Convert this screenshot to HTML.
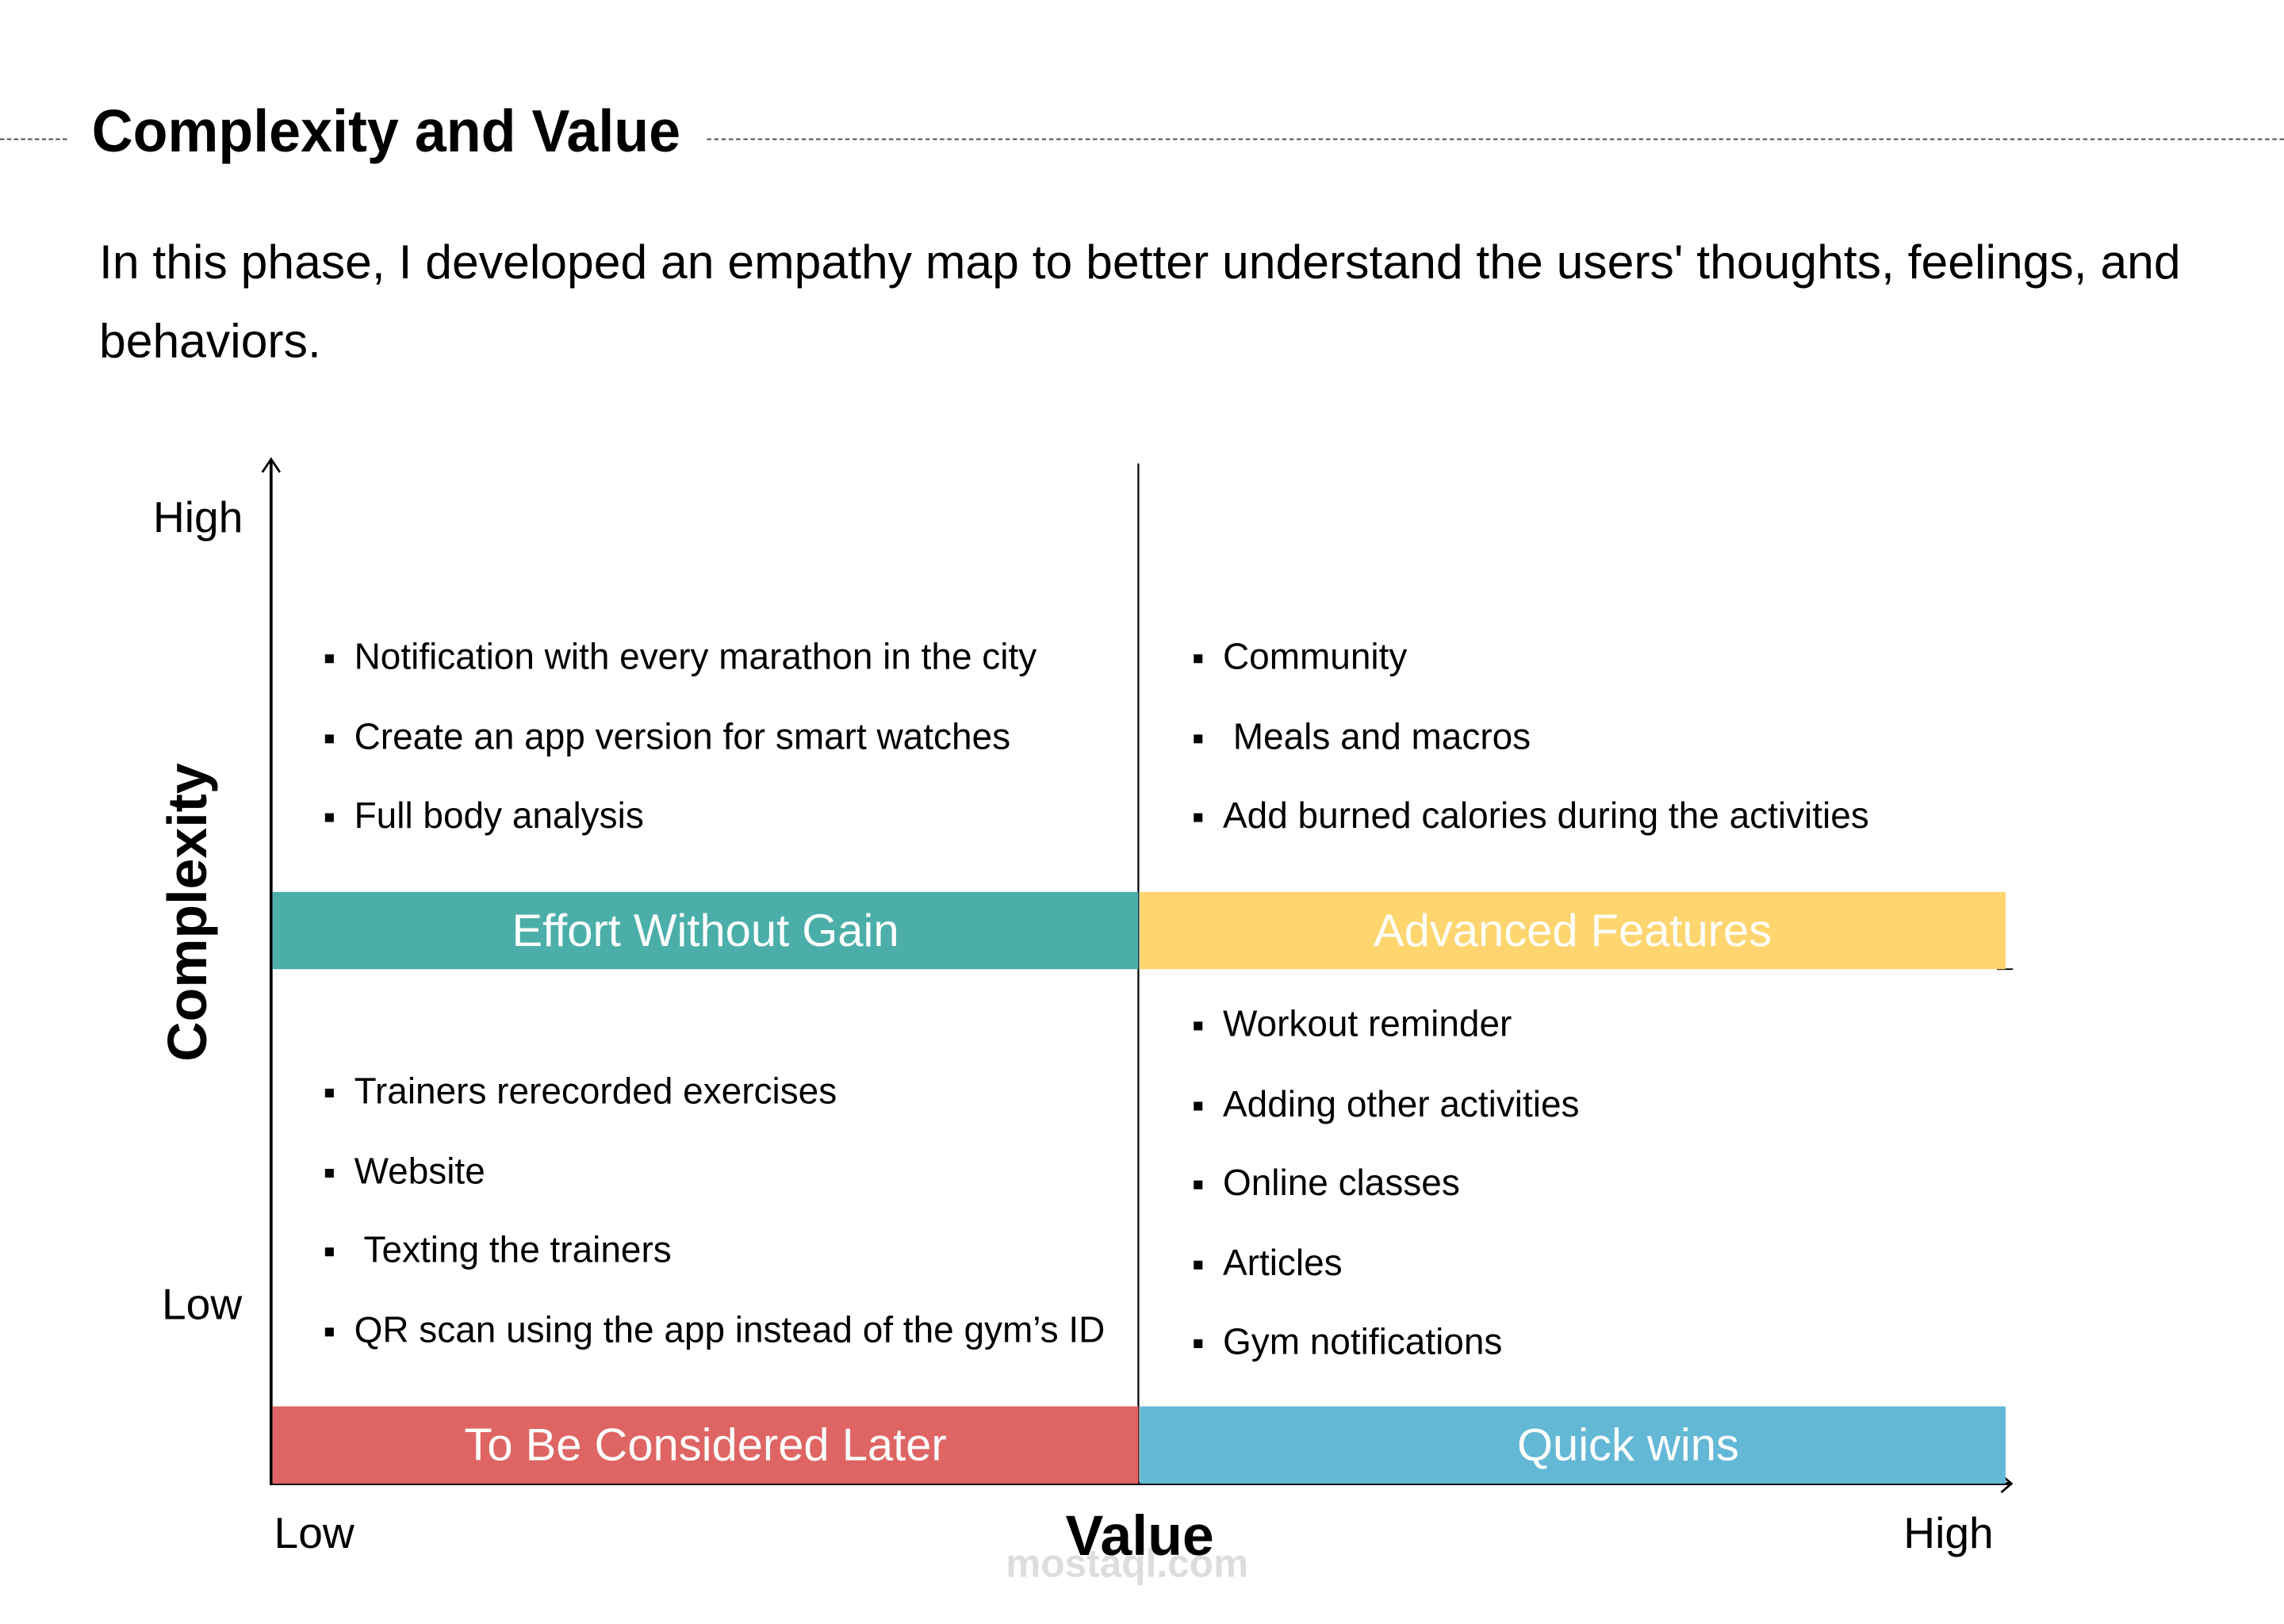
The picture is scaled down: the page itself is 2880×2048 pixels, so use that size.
<!DOCTYPE html>
<html><head><meta charset="utf-8">
<style>
html,body{margin:0;padding:0;background:#fff;}
body{width:2880px;height:2048px;overflow:hidden;position:relative;font-family:"Liberation Sans",sans-serif;color:#000;}
#wrap{position:absolute;left:0;top:0;width:1567px;height:1114px;transform:scale(1.8379,1.8379);transform-origin:0 0;}
.a{position:absolute;white-space:nowrap;}
.n{display:inline-block;transform-origin:0 50%;}
.band{position:absolute;height:53px;color:#fff;font-size:31.5px;line-height:53px;text-align:center;box-sizing:border-box;}
.item{position:absolute;font-size:25px;line-height:30px;white-space:nowrap;}
.item:before{content:"";position:absolute;left:-20px;top:13px;width:6px;height:6px;background:#000;}
</style></head>
<body>
<div id="wrap">
  <div class="a" style="left:0;top:95px;width:46px;border-top:1.5px dashed #444;"></div>
  <div class="a" style="left:485px;top:95px;width:1082px;border-top:1.5px dashed #444;"></div>
  <div class="a" style="left:63px;top:64px;font-size:41px;font-weight:bold;line-height:52px;"><span class="n" style="transform:scaleX(0.953)">Complexity and Value</span></div>
  <div class="a" style="left:68px;top:153px;font-size:33px;line-height:54px;white-space:normal;width:1600px;"><span class="n">In this phase, I developed an empathy map to better understand the users' thoughts, feelings, and<br>behaviors.</span></div>

  <svg class="a" style="left:0;top:0" width="1567" height="1114">
    <line x1="186" y1="316" x2="186" y2="1019" stroke="#000" stroke-width="2"/>
    <polyline points="180,324 186,315 192,324" fill="none" stroke="#000" stroke-width="1.5"/>
    <line x1="781" y1="318" x2="781" y2="1019" stroke="#000" stroke-width="1.2"/>
    <line x1="186" y1="1018" x2="1380" y2="1018" stroke="#000" stroke-width="2"/>
    <polyline points="1373,1012 1380,1018 1373,1024" fill="none" stroke="#000" stroke-width="1.5"/>
    <line x1="1370" y1="665" x2="1381" y2="665" stroke="#000" stroke-width="1"/>
  </svg>

  <div class="band" style="left:187px;top:612px;width:594px;background:#4BAEA9;">Effort Without Gain</div>
  <div class="band" style="left:782px;top:612px;width:594px;background:#FED56F;">Advanced Features</div>
  <div class="band" style="left:187px;top:965px;width:594px;background:#DE6563;">To Be Considered Later</div>
  <div class="band" style="left:782px;top:965px;width:594px;background:#63B8D5;padding-left:76px;">Quick wins</div>

  <div class="a" style="left:105px;top:339px;font-size:30px;">High</div>
  <div class="a" style="left:111px;top:879px;font-size:30px;">Low</div>
  <div class="a" style="left:188px;top:1036px;font-size:30px;">Low</div>
  <div class="a" style="left:1306px;top:1036px;font-size:30px;">High</div>
  <div class="a" style="left:690px;top:1058px;font-size:27px;color:#ddd;font-weight:bold;">mostaql.com</div>
  <div class="a" style="left:731px;top:1033px;font-size:39px;font-weight:bold;">Value</div>
  <div class="a" style="left:130px;top:626px;font-size:38px;font-weight:bold;transform:translate(-50%,-50%) rotate(-90deg);">Complexity</div>

  <div id="items"></div>
</div>
<script>
const topLeft=["Notification with every marathon in the city","Create an app version for smart watches","Full body analysis"];
const topRight=["Community"," Meals and macros","Add burned calories during the activities"];
const bottomLeft=["Trainers rerecorded exercises","Website"," Texting the trainers","QR scan using the app instead of the gym’s ID"];
const bottomRight=["Workout reminder","Adding other activities","Online classes","Articles","Gym notifications"];
const groups=[[topLeft,243,436,'top-left'],[topRight,839,436,'top-right'],[bottomLeft,243,734,'bottom-left'],[bottomRight,839,688,'bottom-right']];
const host=document.getElementById('items');
groups.forEach(g=>{
  g[0].forEach((t,i)=>{
    const d=document.createElement('div');
    d.className='item';
    d.style.left=g[1]+'px';
    d.style.top=(g[2]+i*54.5)+'px';
    const s=document.createElement('span');
    s.className='n';
    s.style.whiteSpace='pre';
    s.textContent=t;
    d.appendChild(s);
    
    
    host.appendChild(d);
  });
});
</script>
</body></html>
